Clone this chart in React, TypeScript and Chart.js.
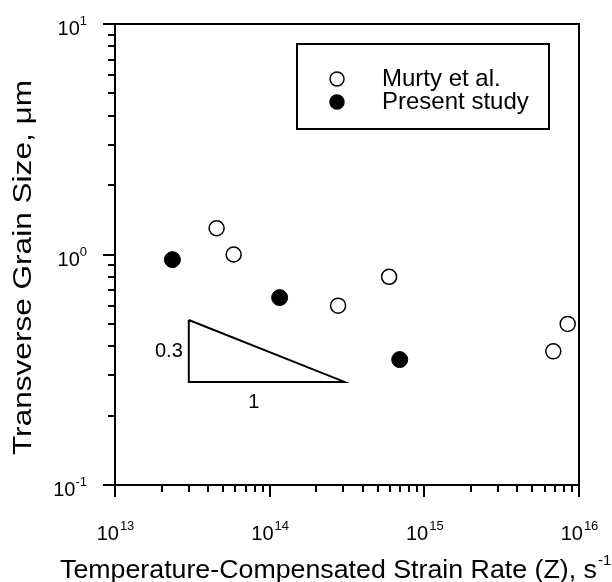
import React, { useEffect, useRef } from "react";
import { Chart, registerables } from "chart.js";
Chart.register(...registerables);

// ---- data ----
const murtyZ = [4.54e13, 5.85e13, 2.77e14, 5.92e14, 6.82e15, 8.45e15];
const murtyD = [1.3, 1.0, 0.6, 0.8, 0.38, 0.5];
const presentZ = [2.35e13, 1.16e14, 6.93e14];
const presentD = [0.95, 0.65, 0.35];
const triangleZ = [3e13, 3e13, 3.05e14, 3e13];
const triangleD = [0.52, 0.28, 0.28, 0.52];
const seriesNames = ["Murty et al.", "Present study"];
const xDecades = [1e13, 1e14, 1e15, 1e16];
const xExponents = ["13", "14", "15", "16"];
const yDecades = [0.1, 1, 10];
const yExponents = ["-1", "0", "1"];
const xTitle = "Temperature-Compensated Strain Rate (Z), s";
const xTitleSup = "-1";
const yTitle = "Transverse Grain Size, \u03bcm";
const slopeRise = "0.3";
const slopeRun = "1";
const slopeRiseAt = { z: 3e13, d: 0.385 };
const slopeRunAt = { z: 7.9e13, d: 0.28 };

const FONT = "'Liberation Sans', Arial, sans-serif";

function minorsOf(decades: number[]) {
  const out: number[] = [];
  for (let i = 0; i < decades.length - 1; i++) {
    for (let k = 2; k <= 9; k++) out.push(decades[i] * k);
  }
  return out;
}

const decorPlugin = {
  id: "decor",
  afterDraw(chart: any) {
    const { ctx, chartArea } = chart;
    const xs = chart.scales.x;
    const ys = chart.scales.y;
    const { left, right, top, bottom } = chartArea;
    ctx.save();
    ctx.strokeStyle = "#000";
    ctx.fillStyle = "#000";
    ctx.lineWidth = 2;
    // frame
    ctx.beginPath();
    ctx.rect(left, top, right - left, bottom - top);
    ctx.stroke();
    // ticks (outward)
    ctx.beginPath();
    xDecades.forEach((v) => {
      const px = Math.round(xs.getPixelForValue(v));
      ctx.moveTo(px, bottom);
      ctx.lineTo(px, bottom + 12);
    });
    minorsOf(xDecades).forEach((v) => {
      const px = Math.round(xs.getPixelForValue(v));
      ctx.moveTo(px, bottom);
      ctx.lineTo(px, bottom + 7);
    });
    yDecades.forEach((v) => {
      const py = Math.round(ys.getPixelForValue(v));
      ctx.moveTo(left, py);
      ctx.lineTo(left - 12, py);
    });
    minorsOf(yDecades).forEach((v) => {
      const py = Math.round(ys.getPixelForValue(v));
      ctx.moveTo(left, py);
      ctx.lineTo(left - 7, py);
    });
    ctx.stroke();

    const base = `20px ${FONT}`;
    const sup = `13px ${FONT}`;
    ctx.textBaseline = "alphabetic";
    ctx.textAlign = "left";
    // x tick labels
    xDecades.forEach((v, i) => {
      const px = xs.getPixelForValue(v);
      ctx.font = base;
      const w1 = ctx.measureText("10").width;
      ctx.font = sup;
      const w2 = ctx.measureText(xExponents[i]).width;
      const x0 = px - (w1 + w2) / 2;
      ctx.font = base;
      ctx.fillText("10", x0, bottom + 55);
      ctx.font = sup;
      ctx.fillText(xExponents[i], x0 + w1 + 1, bottom + 45);
    });
    // y tick labels
    yDecades.forEach((v, i) => {
      const py = ys.getPixelForValue(v);
      ctx.font = sup;
      const w2 = ctx.measureText(yExponents[i]).width;
      ctx.font = base;
      const w1 = ctx.measureText("10").width;
      const xr = left - 28;
      ctx.fillText("10", xr - w2 - w1, py + 11);
      ctx.font = sup;
      ctx.fillText(yExponents[i], xr - w2, py + 1);
    });

    // x title (stretched to the reference width)
    ctx.font = `25px ${FONT}`;
    const tw = ctx.measureText(xTitle).width;
    const xStart = 60;
    const xEnd = 597;
    const sx = (xEnd - xStart) / tw;
    ctx.save();
    ctx.translate(xStart, 578);
    ctx.scale(sx, 1);
    ctx.fillText(xTitle, 0, 0);
    ctx.restore();
    ctx.font = `15px ${FONT}`;
    ctx.fillText(xTitleSup, xEnd + 1, 565);

    // y title (stretched along its length)
    ctx.font = `25px ${FONT}`;
    const yw = ctx.measureText(yTitle).width;
    const yLen = 375;
    ctx.save();
    ctx.translate(31, 455);
    ctx.rotate(-Math.PI / 2);
    ctx.scale(yLen / yw, 1);
    ctx.textAlign = "left";
    ctx.textBaseline = "alphabetic";
    ctx.fillText(yTitle, 0, 0);
    ctx.restore();

    // slope triangle labels
    ctx.font = `20px ${FONT}`;
    ctx.textBaseline = "middle";
    ctx.textAlign = "right";
    ctx.fillText(slopeRise, xs.getPixelForValue(slopeRiseAt.z) - 6, ys.getPixelForValue(slopeRiseAt.d) + 1);
    ctx.textAlign = "center";
    ctx.fillText(slopeRun, xs.getPixelForValue(slopeRunAt.z), ys.getPixelForValue(slopeRunAt.d) + 21);

    // legend
    ctx.lineWidth = 2;
    ctx.strokeRect(297, 44, 252, 85);
    const rows = [
      { y: 79, fill: "#fff" },
      { y: 102, fill: "#000" },
    ];
    rows.forEach((r, i) => {
      ctx.beginPath();
      ctx.arc(337, r.y, 7, 0, Math.PI * 2);
      ctx.fillStyle = r.fill;
      ctx.fill();
      ctx.lineWidth = 1.5;
      ctx.strokeStyle = "#000";
      ctx.stroke();
      ctx.fillStyle = "#000";
      ctx.font = `24px ${FONT}`;
      ctx.textAlign = "left";
      ctx.textBaseline = "middle";
      ctx.fillText(seriesNames[i], 382, r.y);
    });
    ctx.restore();
  },
};

export default function App() {
  const ref = useRef<HTMLCanvasElement | null>(null);
  useEffect(() => {
    if (!ref.current) return;
    const chart = new Chart(ref.current, {
      type: "scatter",
      data: {
        datasets: [
          {
            label: "slope",
            type: "line",
            data: triangleZ.map((z, i) => ({ x: z, y: triangleD[i] })),
            borderColor: "#000",
            borderWidth: 2,
            pointRadius: 0,
            fill: false,
            tension: 0,
          },
          {
            label: seriesNames[0],
            data: murtyZ.map((z, i) => ({ x: z, y: murtyD[i] })),
            pointRadius: 7.5,
            pointBackgroundColor: "#fff",
            pointBorderColor: "#000",
            pointBorderWidth: 1.5,
          },
          {
            label: seriesNames[1],
            data: presentZ.map((z, i) => ({ x: z, y: presentD[i] })),
            pointRadius: 8,
            pointBackgroundColor: "#000",
            pointBorderColor: "#000",
            pointBorderWidth: 1,
          },
        ],
      },
      options: {
        responsive: false,
        animation: false,
        layout: { padding: { left: 115, right: 33, top: 24, bottom: 97 } },
        plugins: { legend: { display: false }, tooltip: { enabled: false } },
        scales: {
          x: { type: "logarithmic", min: 1e13, max: 1e16, display: false },
          y: { type: "logarithmic", min: 0.1, max: 10, display: false },
        },
      },
      plugins: [decorPlugin],
    });
    return () => chart.destroy();
  }, []);
  return (
    <div style={{ position: "absolute", left: 0, top: 0, width: 612, height: 582, background: "#fff" }}>
      <canvas ref={ref} width={612} height={582} style={{ display: "block" }} />
    </div>
  );
}
